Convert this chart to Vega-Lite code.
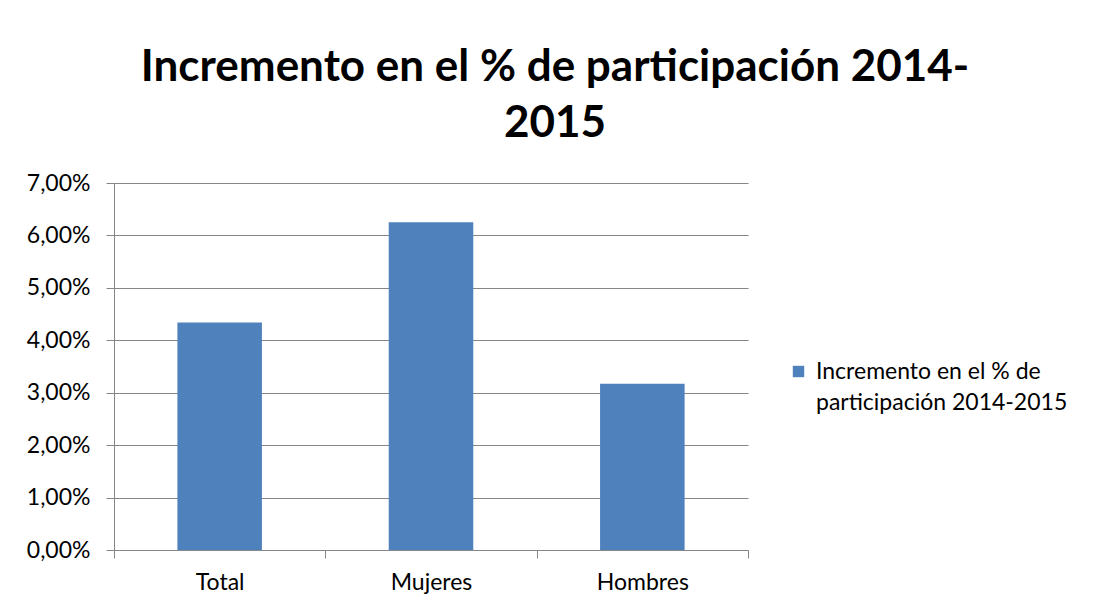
{
  "$schema": "https://vega.github.io/schema/vega-lite/v6.json",
  "width": 634,
  "height": 367,
  "autosize": {"type": "none"},
  "padding": {"left": 114, "top": 183, "right": 346, "bottom": 60},
  "background": "white",
  "title": {
    "text": ["Incremento en el % de participación 2014-", "2015"],
    "font": "Lato",
    "fontSize": 44,
    "fontWeight": "bold",
    "color": "black",
    "anchor": "middle",
    "frame": "group",
    "dx": 124,
    "offset": 26,
    "lineHeight": 56
  },
  "data": {
    "values": [
      {"grupo": "Total", "valor": 0.0434, "serie": "Incremento en el % de participación 2014-2015"},
      {"grupo": "Mujeres", "valor": 0.0625, "serie": "Incremento en el % de participación 2014-2015"},
      {"grupo": "Hombres", "valor": 0.0317, "serie": "Incremento en el % de participación 2014-2015"}
    ]
  },
  "mark": {"type": "bar", "width": {"band": 0.4}},
  "encoding": {
    "x": {
      "field": "grupo",
      "type": "nominal",
      "sort": null,
      "scale": {"paddingInner": 0, "paddingOuter": 0},
      "axis": {
        "title": null,
        "labelAngle": 0,
        "tickBand": "extent",
        "tickSize": 8,
        "labelPadding": 13,
        "labelFont": "Lato",
        "labelFontSize": 23,
        "labelColor": "black",
        "domainColor": "#868686",
        "tickColor": "#868686",
        "grid": false
      }
    },
    "y": {
      "field": "valor",
      "type": "quantitative",
      "scale": {"domain": [0, 0.07], "nice": false},
      "axis": {
        "title": null,
        "values": [0, 0.01, 0.02, 0.03, 0.04, 0.05, 0.06, 0.07],
        "labelExpr": "replace(format(datum.value, '.2%'), '.', ',')",
        "tickSize": 8,
        "labelPadding": 16,
        "labelFont": "Lato",
        "labelFontSize": 23,
        "labelColor": "black",
        "domainColor": "#868686",
        "tickColor": "#868686",
        "gridColor": "#868686",
        "grid": true
      }
    },
    "color": {
      "field": "serie",
      "type": "nominal",
      "scale": {"range": ["#4F81BD"]},
      "legend": {
        "title": null,
        "orient": "none",
        "legendX": 673,
        "legendY": 177,
        "padding": 0,
        "symbolType": "square",
        "symbolSize": 130,
        "symbolStrokeWidth": 0,
        "labelFont": "Lato",
        "labelFontSize": 23,
        "labelColor": "black",
        "labelLimit": 400,
        "labelOffset": 6,
        "labelExpr": "['Incremento en el % de', 'participación 2014-2015']",
        "encode": {"labels": {"update": {"lineHeight": {"value": 31}}}}
      }
    }
  },
  "config": {"view": {"stroke": null}}
}
